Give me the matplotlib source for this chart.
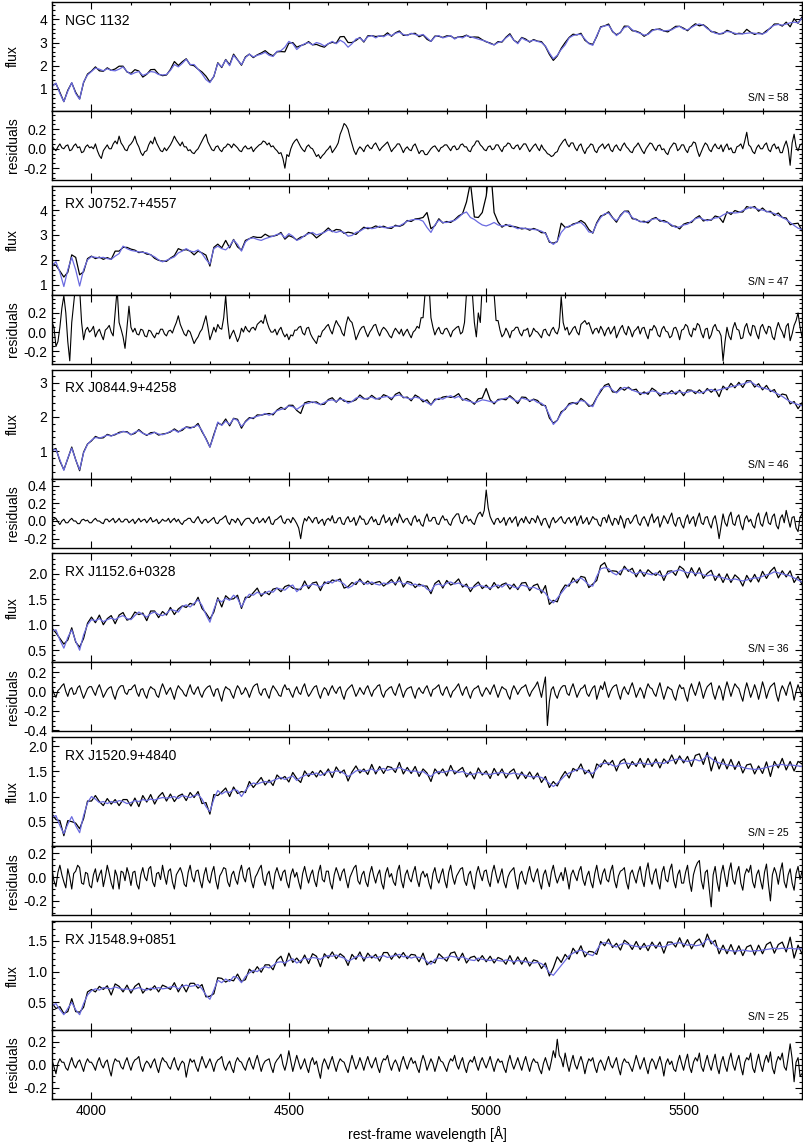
import numpy as np
import matplotlib
matplotlib.use('Agg')
import matplotlib.pyplot as plt
from matplotlib.ticker import MultipleLocator, FormatStrFormatter

plt.rcParams['font.family'] = ['Liberation Sans', 'DejaVu Sans']
plt.rcParams['axes.unicode_minus'] = False

# rest-frame wavelength grids: model on 10 A steps, residuals on 5 A steps
wave = np.arange(3900, 5801, 10)
wave_fine = np.arange(3900, 5801, 5)

names = ['NGC 1132', 'RX J0752.7+4557', 'RX J0844.9+4258',
         'RX J1152.6+0328', 'RX J1520.9+4840', 'RX J1548.9+0851']
sn_values = [58, 47, 46, 36, 25, 25]

ngc1132_model = [
    1.10, 1.25, 0.80, 0.45, 0.90, 1.27, 0.80, 0.55, 1.30, 1.60,
    1.75, 1.90, 1.85, 1.78, 1.87, 1.80, 1.78, 1.85, 1.95, 1.75,
    1.62, 1.70, 1.75, 1.58, 1.65, 1.75, 1.72, 1.62, 1.60, 1.62,
    1.80, 2.05, 1.95, 2.10, 2.28, 2.05, 2.05, 1.85, 1.65, 1.40,
    1.27, 1.55, 2.10, 1.95, 2.25, 2.00, 2.45, 2.25, 2.05, 2.35,
    2.50, 2.38, 2.45, 2.50, 2.58, 2.45, 2.40, 2.62, 2.65, 2.80,
    3.05, 2.95, 2.70, 2.85, 2.95, 3.00, 2.90, 3.00, 2.95, 2.85,
    2.95, 3.05, 2.95, 3.10, 3.00, 2.80, 2.95, 3.15, 3.20, 3.05,
    3.25, 3.30, 3.20, 3.30, 3.25, 3.35, 3.30, 3.40, 3.45, 3.35,
    3.30, 3.40, 3.35, 3.30, 3.35, 3.20, 3.05, 3.25, 3.30, 3.20,
    3.25, 3.30, 3.15, 3.25, 3.20, 3.30, 3.25, 3.20, 3.15, 3.10,
    3.05, 2.95, 2.90, 3.00, 3.05, 3.20, 3.33, 3.10, 2.95, 3.20,
    3.10, 3.05, 3.10, 3.05, 3.00, 2.85, 2.55, 2.30, 2.45, 2.70,
    2.90, 3.20, 3.30, 3.35, 3.35, 3.15, 2.95, 2.88, 3.30, 3.65,
    3.72, 3.75, 3.50, 3.30, 3.45, 3.65, 3.70, 3.55, 3.46, 3.40,
    3.32, 3.35, 3.50, 3.58, 3.55, 3.50, 3.52, 3.55, 3.65, 3.70,
    3.58, 3.55, 3.65, 3.75, 3.80, 3.75, 3.60, 3.50, 3.40, 3.37,
    3.42, 3.48, 3.45, 3.40, 3.37, 3.38, 3.40, 3.42, 3.40, 3.38,
    3.37, 3.45, 3.65, 3.75, 3.78, 3.75, 3.80, 3.85, 3.88, 3.85,
    4.05]
ngc1132_resid = [
    0.03, 0.00, -0.02, 0.02, 0.05, 0.01, 0.00, 0.03, 0.04, -0.02, -0.01, 0.03, 0.05, 0.01, 0.02, -0.04, -0.03, 0.02, 0.04, 0.01,
    0.02, 0.00, 0.05, -0.02, -0.07, -0.10, -0.02, 0.01, 0.04, 0.00, 0.00, 0.05, 0.08, 0.05, 0.13, 0.06, 0.03, -0.01, -0.02, 0.03,
    0.05, 0.08, 0.13, 0.06, 0.02, -0.04, -0.07, -0.03, -0.02, 0.04, 0.08, 0.05, 0.12, 0.06, 0.02, -0.02, -0.03, 0.01, -0.02, 0.01,
    0.04, 0.08, 0.13, 0.09, 0.06, 0.03, 0.07, 0.02, 0.02, -0.02, -0.01, -0.04, -0.05, -0.02, 0.00, 0.04, 0.08, 0.12, 0.15, 0.07,
    0.03, -0.01, -0.02, 0.02, 0.03, -0.01, -0.03, 0.01, 0.02, 0.05, 0.04, 0.01, 0.05, 0.03, 0.01, -0.02, -0.03, 0.01, 0.03, 0.00,
    0.00, 0.02, -0.03, 0.00, 0.02, 0.04, 0.05, 0.08, 0.07, 0.04, 0.06, 0.02, 0.03, 0.00, -0.02, -0.05, -0.04, -0.10, -0.20, -0.06,
    -0.08, 0.00, 0.05, 0.08, 0.10, 0.06, 0.02, -0.01, -0.03, 0.02, 0.04, 0.01, 0.00, -0.04, -0.08, -0.06, -0.10, -0.07, -0.05, -0.02,
    0.00, 0.03, -0.04, -0.01, 0.02, 0.06, 0.15, 0.20, 0.26, 0.24, 0.20, 0.12, 0.05, -0.02, -0.06, -0.01, 0.02, 0.00, -0.03, 0.02,
    0.04, 0.01, 0.00, 0.04, 0.06, 0.02, -0.02, 0.01, 0.03, 0.05, 0.07, 0.02, -0.03, 0.00, 0.02, 0.05, 0.05, 0.01, -0.04, 0.00,
    0.02, -0.01, -0.02, 0.03, 0.05, 0.00, -0.05, -0.02, -0.02, -0.06, -0.06, -0.03, 0.00, 0.02, 0.03, 0.00, -0.03, 0.01, 0.02, 0.04,
    0.04, 0.01, -0.02, 0.02, 0.03, -0.01, 0.00, 0.04, 0.05, 0.02, 0.02, -0.02, -0.03, 0.02, 0.04, 0.08, 0.08, 0.04, 0.02, -0.01,
    -0.02, 0.02, 0.03, -0.01, 0.00, 0.04, 0.04, 0.00, -0.03, 0.02, 0.03, 0.06, 0.05, 0.01, 0.00, 0.03, 0.04, -0.01, 0.02, 0.05,
    0.05, 0.01, -0.03, 0.00, 0.03, 0.05, 0.01, -0.02, 0.04, 0.00, -0.02, -0.05, -0.06, -0.08, -0.07, -0.04, -0.03, 0.02, 0.05, 0.08,
    0.10, 0.05, 0.02, 0.06, 0.06, 0.01, -0.02, 0.03, 0.05, -0.01, -0.05, 0.00, 0.02, 0.05, 0.04, -0.02, -0.04, 0.01, 0.03, 0.05,
    0.00, 0.03, 0.05, -0.01, -0.03, 0.02, 0.04, 0.00, -0.02, 0.03, 0.06, 0.02, 0.00, -0.03, -0.04, 0.01, 0.03, 0.06, 0.02, -0.02,
    -0.05, 0.00, 0.03, 0.06, 0.05, 0.01, -0.02, 0.03, 0.04, -0.01, 0.00, -0.04, -0.06, 0.00, 0.03, 0.06, 0.05, -0.02, 0.00, 0.04,
    0.04, -0.01, -0.04, 0.02, 0.03, 0.07, 0.06, -0.02, -0.08, -0.03, 0.02, 0.06, 0.04, -0.01, -0.03, 0.02, 0.05, 0.01, 0.00, 0.04,
    -0.03, 0.02, 0.05, -0.01, 0.01, -0.04, -0.04, 0.02, 0.03, 0.05, 0.00, 0.08, 0.17, 0.04, 0.02, -0.03, -0.05, 0.01, 0.04, 0.00,
    0.00, 0.04, 0.06, -0.01, -0.03, 0.03, 0.05, 0.00, 0.02, -0.04, -0.04, 0.03, 0.08, 0.00, -0.17, 0.06, 0.15, 0.02, -0.02, 0.04,
    0.05]

rxj0752_model = [
    1.75, 1.93, 1.50, 0.93, 1.60, 2.10, 1.60, 0.95, 1.60, 2.00,
    2.13, 2.10, 2.08, 2.10, 2.05, 2.02, 2.15, 2.25, 2.55, 2.45,
    2.38, 2.35, 2.32, 2.30, 2.28, 2.20, 2.12, 2.00, 1.92, 1.98,
    2.05, 2.12, 2.28, 2.35, 2.45, 2.35, 2.32, 2.40, 2.25, 2.02,
    1.83, 2.45, 2.55, 2.45, 2.40, 2.55, 2.80, 2.62, 2.35, 2.72,
    2.85, 2.88, 2.82, 2.78, 2.85, 2.90, 2.95, 3.02, 3.05, 2.88,
    3.05, 2.95, 2.78, 2.85, 2.98, 3.05, 3.10, 3.00, 3.05, 3.10,
    3.20, 3.15, 3.10, 3.15, 3.10, 2.95, 2.98, 3.10, 3.15, 3.25,
    3.30, 3.25, 3.28, 3.35, 3.30, 3.28, 3.32, 3.35, 3.36, 3.45,
    3.55, 3.60, 3.62, 3.62, 3.55, 3.30, 3.10, 3.40, 3.60, 3.50,
    3.50, 3.55, 3.58, 3.70, 3.85, 3.92, 3.70, 3.62, 3.50, 3.40,
    3.36, 3.42, 3.50, 3.40, 3.36, 3.38, 3.40, 3.32, 3.25, 3.28,
    3.25, 3.24, 3.22, 3.20, 3.15, 3.06, 2.75, 2.62, 2.75, 3.10,
    3.28, 3.36, 3.40, 3.48, 3.50, 3.35, 3.12, 3.09, 3.45, 3.70,
    3.85, 3.88, 3.68, 3.57, 3.75, 3.95, 3.90, 3.70, 3.60, 3.55,
    3.50, 3.55, 3.62, 3.66, 3.60, 3.52, 3.50, 3.40, 3.30, 3.32,
    3.40, 3.43, 3.55, 3.65, 3.70, 3.62, 3.57, 3.62, 3.68, 3.70,
    3.80, 3.88, 3.90, 3.88, 3.90, 3.98, 4.05, 4.12, 4.08, 4.02,
    4.00, 3.95, 3.90, 3.86, 3.78, 3.70, 3.62, 3.50, 3.38, 3.27,
    3.22]
rxj0752_resid = [
    0.10, 0.05, -0.15, -0.10, 0.05, 0.25, 0.38, 0.20, -0.10, -0.30, 0.10, 0.30, 0.50, 0.50, 0.45, 0.10, -0.08, 0.02, 0.05, 0.00,
    0.02, 0.06, -0.05, 0.00, 0.03, -0.03, -0.08, 0.02, 0.04, 0.07, 0.00, -0.04, 0.20, 0.45, 0.10, 0.03, -0.05, -0.17, 0.05, 0.27,
    0.05, 0.00, 0.04, -0.02, -0.03, 0.03, 0.02, -0.04, -0.05, 0.02, 0.01, -0.03, -0.06, -0.01, -0.02, 0.03, 0.03, -0.02, -0.04, 0.01,
    0.02, -0.01, 0.05, 0.10, 0.17, 0.08, 0.03, -0.02, -0.04, 0.02, 0.00, -0.06, -0.12, -0.08, -0.05, 0.00, 0.03, 0.10, 0.17, 0.05,
    -0.08, -0.02, 0.05, 0.00, 0.08, 0.04, 0.03, 0.15, 0.38, 0.10, -0.07, -0.02, 0.02, -0.04, -0.10, -0.05, 0.04, 0.00, 0.06, 0.02,
    0.00, 0.04, 0.05, 0.02, 0.08, 0.10, 0.12, 0.09, 0.18, 0.10, 0.04, 0.00, 0.00, 0.03, -0.03, 0.02, 0.05, -0.01, -0.05, -0.02,
    -0.08, -0.03, -0.04, 0.02, 0.02, 0.05, 0.06, -0.01, -0.03, 0.04, 0.05, -0.02, -0.06, -0.09, -0.12, -0.04, -0.05, 0.01, 0.03, 0.06,
    0.08, 0.02, -0.02, 0.06, 0.12, 0.08, 0.05, -0.01, -0.04, 0.08, 0.16, 0.12, 0.10, 0.02, -0.08, -0.03, 0.02, 0.05, 0.06, 0.00,
    -0.05, 0.00, 0.03, 0.07, 0.08, 0.01, -0.04, 0.02, 0.05, 0.03, 0.00, -0.04, -0.06, 0.00, 0.04, 0.01, -0.02, 0.03, -0.04, 0.00,
    0.03, -0.02, -0.06, 0.00, 0.02, 0.06, 0.04, 0.15, 0.15, 0.40, 0.60, 0.50, 0.15, 0.05, -0.03, 0.02, 0.05, -0.01, -0.02, 0.03,
    0.04, 0.00, -0.05, 0.01, 0.03, 0.05, 0.06, -0.02, 0.00, 0.10, 0.40, 0.90, 1.40, 0.40, 0.10, -0.05, 0.20, 0.10, 0.50, 0.80,
    1.20, 2.00, 2.50, 1.20, 0.40, 0.12, 0.12, 0.02, -0.05, -0.02, 0.04, 0.00, -0.06, 0.01, 0.02, 0.05, 0.05, -0.01, -0.04, 0.02,
    0.02, 0.04, -0.05, -0.02, 0.04, 0.01, 0.00, -0.03, -0.06, 0.02, 0.03, -0.02, -0.04, 0.02, 0.05, 0.00, -0.02, 0.05, 0.37, 0.10,
    0.02, 0.05, -0.03, 0.00, 0.04, 0.06, 0.00, -0.03, 0.08, 0.10, 0.12, 0.08, 0.10, 0.04, -0.02, 0.03, 0.04, -0.01, 0.06, 0.02,
    -0.04, 0.02, 0.05, -0.02, 0.02, 0.06, -0.06, -0.01, 0.04, 0.07, 0.00, -0.03, 0.06, 0.02, -0.05, 0.01, 0.03, 0.06, -0.02, 0.04,
    0.05, -0.02, -0.07, 0.03, 0.02, 0.07, 0.04, -0.03, -0.05, 0.03, 0.06, 0.01, 0.00, -0.06, -0.04, 0.04, 0.05, 0.00, -0.08, 0.02,
    0.03, 0.08, 0.06, -0.02, -0.05, 0.04, 0.02, 0.09, 0.07, -0.01, -0.06, 0.03, 0.04, -0.07, -0.03, 0.05, 0.08, 0.02, 0.01, -0.04,
    -0.30, -0.10, 0.05, -0.04, -0.08, 0.04, 0.10, 0.03, 0.02, -0.07, -0.06, 0.05, 0.09, 0.00, -0.04, 0.07, 0.06, -0.02, -0.07, 0.05,
    0.08, 0.02, -0.02, 0.06, 0.05, -0.05, -0.08, 0.03, 0.10, 0.04, 0.00, -0.06, 0.06, 0.09, -0.09, -0.02, 0.07, 0.12, 0.20, 0.05,
    -0.05]

rxj0844_model = [
    1.03, 1.05, 0.75, 0.44, 0.80, 1.09, 0.75, 0.46, 0.95, 1.20,
    1.32, 1.40, 1.38, 1.42, 1.47, 1.44, 1.50, 1.52, 1.58, 1.55,
    1.48, 1.55, 1.60, 1.52, 1.48, 1.50, 1.55, 1.50, 1.48, 1.52,
    1.58, 1.62, 1.55, 1.65, 1.70, 1.66, 1.72, 1.76, 1.60, 1.35,
    1.12, 1.45, 1.85, 1.75, 1.88, 1.78, 1.95, 1.90, 1.72, 1.85,
    1.95, 1.98, 2.02, 2.05, 2.10, 2.05, 2.10, 2.18, 2.22, 2.25,
    2.32, 2.30, 2.22, 2.30, 2.38, 2.40, 2.44, 2.40, 2.36, 2.42,
    2.48, 2.50, 2.45, 2.52, 2.50, 2.40, 2.45, 2.55, 2.58, 2.52,
    2.55, 2.58, 2.52, 2.56, 2.58, 2.60, 2.55, 2.62, 2.64, 2.58,
    2.55, 2.52, 2.58, 2.55, 2.50, 2.42, 2.35, 2.48, 2.55, 2.52,
    2.58, 2.62, 2.55, 2.60, 2.52, 2.48, 2.45, 2.41, 2.45, 2.50,
    2.48, 2.45, 2.42, 2.48, 2.52, 2.55, 2.58, 2.50, 2.45, 2.55,
    2.52, 2.48, 2.50, 2.42, 2.40, 2.30, 2.05, 1.78, 1.90, 2.10,
    2.25, 2.35, 2.40, 2.42, 2.48, 2.45, 2.35, 2.30, 2.55, 2.80,
    2.88, 2.90, 2.78, 2.70, 2.80, 2.86, 2.84, 2.78, 2.74, 2.70,
    2.68, 2.72, 2.76, 2.74, 2.68, 2.66, 2.70, 2.68, 2.72, 2.74,
    2.70, 2.72, 2.76, 2.74, 2.70, 2.72, 2.78, 2.80, 2.76, 2.79,
    2.82, 2.85, 2.88, 2.90, 2.94, 2.96, 3.00, 3.03, 2.95, 2.88,
    2.85, 2.82, 2.78, 2.72, 2.66, 2.60, 2.52, 2.45, 2.40, 2.36,
    2.33]
rxj0844_resid = [
    0.00, 0.02, 0.03, -0.01, -0.04, 0.00, 0.02, -0.02, -0.02, 0.01, 0.03, 0.00, 0.00, -0.03, -0.03, 0.01, 0.02, 0.00, 0.01, -0.02,
    -0.02, 0.01, 0.03, 0.00, 0.00, -0.02, -0.03, 0.02, 0.02, -0.01, 0.01, 0.03, -0.02, 0.00, 0.03, -0.01, -0.01, 0.02, 0.02, -0.02,
    0.00, 0.02, -0.03, 0.00, 0.03, -0.01, 0.01, 0.02, -0.02, 0.01, 0.04, -0.01, 0.00, 0.02, -0.03, -0.01, 0.02, 0.00, 0.00, 0.03,
    -0.02, 0.01, 0.03, -0.01, 0.02, -0.02, -0.04, 0.00, 0.01, 0.03, 0.03, -0.01, -0.02, 0.02, 0.05, 0.00, -0.03, 0.01, 0.02, -0.02,
    0.00, 0.02, 0.04, -0.02, -0.03, 0.01, 0.02, 0.04, 0.06, -0.01, -0.04, 0.02, 0.01, -0.02, 0.03, 0.00, -0.05, -0.01, 0.02, 0.03,
    0.03, -0.01, -0.03, 0.02, 0.04, -0.02, 0.00, 0.03, -0.02, 0.02, 0.05, -0.03, -0.04, 0.01, 0.02, 0.04, 0.06, -0.01, -0.03, 0.02,
    0.02, -0.02, 0.04, 0.01, -0.03, -0.08, -0.20, -0.05, 0.03, 0.00, 0.05, 0.02, -0.02, 0.03, 0.04, -0.03, 0.00, 0.02, -0.05, 0.01,
    0.03, 0.00, 0.06, -0.02, -0.02, 0.03, 0.04, -0.03, -0.04, 0.02, 0.05, -0.01, 0.00, 0.04, -0.05, 0.00, 0.06, 0.02, 0.02, -0.04,
    -0.03, 0.02, 0.05, -0.01, 0.02, -0.04, -0.04, 0.03, 0.07, -0.02, 0.00, 0.04, -0.05, 0.01, 0.04, -0.02, 0.08, 0.03, -0.02, 0.02,
    0.03, -0.02, -0.05, 0.03, 0.06, -0.01, 0.02, -0.04, -0.06, 0.03, 0.08, 0.00, 0.00, 0.04, 0.04, -0.03, -0.04, 0.02, 0.06, 0.01,
    0.02, -0.03, -0.05, 0.02, 0.05, 0.08, 0.08, -0.01, -0.03, 0.04, 0.06, 0.00, 0.02, -0.02, -0.04, 0.03, 0.08, 0.10, 0.05, 0.12,
    0.35, 0.15, 0.05, 0.00, -0.04, 0.02, 0.03, -0.02, 0.00, 0.04, -0.05, 0.01, 0.04, -0.02, 0.02, 0.05, -0.06, 0.00, 0.03, -0.02,
    0.05, 0.00, -0.03, 0.03, 0.02, -0.02, 0.06, 0.01, -0.05, 0.02, 0.03, -0.03, -0.08, 0.00, 0.04, -0.02, 0.00, 0.03, 0.05, -0.01,
    -0.03, 0.02, 0.04, -0.02, 0.02, 0.05, -0.05, 0.01, 0.06, -0.03, 0.00, 0.04, -0.04, 0.00, 0.05, 0.02, 0.02, -0.04, -0.06, 0.03,
    0.04, -0.02, 0.07, 0.00, -0.05, 0.03, 0.02, -0.04, 0.06, 0.01, -0.08, 0.02, 0.03, -0.03, 0.00, 0.05, 0.07, -0.02, -0.05, 0.02,
    0.05, 0.00, -0.06, 0.03, 0.08, -0.02, 0.02, 0.05, -0.07, -0.01, 0.06, 0.02, -0.03, 0.04, 0.09, -0.02, -0.06, 0.03, 0.04, -0.04,
    -0.08, 0.02, 0.07, -0.03, 0.02, 0.05, -0.06, 0.03, 0.09, -0.02, -0.04, 0.04, 0.05, -0.03, -0.08, 0.02, 0.06, -0.05, -0.20, -0.06,
    0.08, -0.02, -0.06, 0.05, 0.10, -0.03, -0.05, 0.04, 0.07, -0.04, -0.10, 0.02, 0.06, -0.01, 0.02, -0.05, -0.08, 0.04, 0.09, -0.03,
    -0.06, 0.04, 0.10, -0.02, -0.04, 0.05, 0.08, -0.05, -0.09, 0.03, 0.07, -0.02, 0.12, 0.02, -0.07, 0.04, 0.05, -0.08, -0.12, 0.04,
    0.08]

rxj1152_model = [
    0.88, 0.90, 0.70, 0.54, 0.75, 0.90, 0.68, 0.50, 0.80, 1.00,
    1.10, 1.08, 1.12, 1.06, 1.10, 1.13, 1.10, 1.15, 1.18, 1.12,
    1.10, 1.18, 1.25, 1.20, 1.15, 1.22, 1.25, 1.20, 1.18, 1.22,
    1.30, 1.28, 1.25, 1.36, 1.39, 1.35, 1.42, 1.49, 1.38, 1.20,
    1.05, 1.30, 1.50, 1.45, 1.52, 1.48, 1.58, 1.52, 1.35, 1.50,
    1.60, 1.58, 1.64, 1.60, 1.62, 1.66, 1.64, 1.72, 1.70, 1.68,
    1.75, 1.78, 1.65, 1.72, 1.78, 1.76, 1.80, 1.78, 1.74, 1.80,
    1.85, 1.82, 1.88, 1.85, 1.80, 1.72, 1.76, 1.84, 1.86, 1.82,
    1.80, 1.84, 1.80, 1.78, 1.82, 1.80, 1.84, 1.82, 1.86, 1.80,
    1.82, 1.78, 1.80, 1.76, 1.78, 1.70, 1.66, 1.78, 1.80, 1.76,
    1.82, 1.84, 1.80, 1.82, 1.78, 1.75, 1.72, 1.74, 1.78, 1.76,
    1.74, 1.72, 1.76, 1.78, 1.74, 1.80, 1.78, 1.74, 1.72, 1.78,
    1.76, 1.72, 1.74, 1.70, 1.68, 1.62, 1.50, 1.43, 1.52, 1.62,
    1.72, 1.80, 1.84, 1.88, 1.92, 1.86, 1.78, 1.76, 1.95, 2.10,
    2.12, 2.10, 2.02, 1.98, 2.06, 2.10, 2.08, 2.02, 2.00, 2.04,
    2.02, 2.00, 1.98, 2.02, 1.97, 1.95, 2.00, 2.04, 2.06, 2.08,
    2.05, 2.02, 2.04, 2.00, 2.02, 1.98, 1.96, 1.98, 1.95, 1.94,
    1.92, 1.90, 1.88, 1.90, 1.88, 1.86, 1.88, 1.90, 1.92, 1.92,
    1.95, 1.98, 2.00, 2.04, 2.02, 2.00, 1.98, 1.96, 1.92, 1.88,
    1.84]
rxj1152_resid = [
    0.05, -0.02, -0.06, 0.01, 0.03, 0.06, 0.08, 0.00, -0.05, 0.02, 0.04, -0.03, -0.02, 0.04, 0.06, -0.01, -0.07, -0.02, 0.03, 0.05,
    0.05, 0.00, -0.04, 0.03, 0.07, 0.01, -0.06, -0.02, 0.02, 0.04, 0.05, -0.03, -0.08, 0.00, 0.04, 0.06, 0.06, -0.01, -0.03, 0.02,
    0.02, 0.05, 0.07, -0.01, -0.05, 0.02, 0.03, -0.03, -0.07, 0.01, 0.05, 0.03, 0.02, -0.04, -0.06, 0.02, 0.08, 0.03, -0.03, 0.01,
    0.04, -0.02, -0.08, 0.01, 0.06, 0.03, 0.01, -0.03, -0.05, 0.02, 0.07, 0.00, -0.03, 0.02, 0.05, -0.02, -0.06, 0.00, 0.03, 0.05,
    0.06, 0.00, -0.05, 0.02, 0.03, -0.04, -0.10, 0.00, 0.05, 0.03, 0.02, -0.03, -0.07, 0.01, 0.06, 0.03, -0.03, -0.01, 0.04, 0.00,
    -0.06, 0.00, 0.05, 0.07, 0.08, -0.01, -0.04, 0.02, 0.03, -0.03, -0.07, 0.01, 0.06, 0.03, 0.00, -0.04, -0.05, 0.03, 0.07, 0.02,
    0.03, -0.02, -0.06, 0.01, 0.05, -0.01, -0.03, 0.04, 0.08, 0.00, -0.05, -0.02, 0.02, 0.05, 0.06, -0.02, -0.07, 0.00, 0.04, 0.02,
    -0.04, 0.02, 0.06, 0.01, -0.02, 0.03, 0.05, -0.03, -0.08, 0.00, 0.03, 0.05, 0.07, 0.01, -0.05, -0.01, 0.04, 0.00, -0.03, 0.03,
    0.06, 0.00, -0.05, 0.01, 0.03, 0.06, 0.07, -0.02, -0.06, 0.00, 0.02, 0.04, 0.05, -0.01, -0.04, 0.03, 0.08, 0.01, -0.06, 0.00,
    0.03, 0.04, 0.05, -0.02, -0.07, 0.01, 0.04, 0.00, -0.02, 0.03, 0.06, 0.00, -0.05, 0.02, 0.03, 0.05, 0.07, -0.01, -0.04, 0.02,
    0.05, -0.01, -0.06, 0.00, 0.02, 0.05, 0.08, 0.01, -0.04, 0.02, 0.05, -0.02, -0.07, 0.00, 0.03, 0.04, 0.06, -0.01, -0.05, 0.00,
    0.04, 0.01, -0.03, 0.03, 0.07, 0.00, -0.06, 0.00, 0.05, 0.03, 0.02, -0.04, -0.08, 0.01, 0.06, 0.02, -0.03, 0.01, 0.04, 0.05,
    0.07, 0.00, -0.05, 0.00, 0.03, 0.06, 0.10, 0.02, -0.06, 0.05, 0.15, -0.35, -0.10, 0.02, 0.05, -0.03, -0.07, 0.00, 0.04, 0.06,
    0.06, -0.02, -0.04, 0.03, 0.08, 0.01, -0.06, -0.01, 0.03, 0.04, 0.07, -0.02, -0.05, 0.00, 0.04, 0.06, -0.08, -0.01, 0.06, 0.02,
    0.10, 0.01, -0.06, 0.00, 0.04, 0.06, 0.07, -0.02, -0.08, 0.01, 0.05, 0.00, -0.03, 0.04, 0.09, 0.02, -0.06, -0.01, 0.04, 0.00,
    -0.07, 0.02, 0.08, 0.04, 0.03, -0.02, -0.05, 0.03, 0.09, 0.00, -0.08, -0.01, 0.05, 0.03, 0.02, -0.05, -0.09, 0.01, 0.07, 0.03,
    0.04, -0.04, -0.10, 0.02, 0.08, 0.01, -0.04, 0.03, 0.10, 0.02, -0.07, 0.00, 0.05, 0.07, 0.09, -0.02, -0.08, 0.00, 0.06, 0.01,
    -0.09, 0.02, 0.10, 0.03, -0.05, 0.02, 0.08, 0.05, 0.03, -0.04, -0.10, 0.01, 0.09, 0.02, -0.06, 0.00, 0.07, 0.01, -0.08, 0.00,
    0.10, 0.03, -0.07, 0.00, 0.05, 0.07, 0.09, -0.03, -0.10, 0.00, 0.06, 0.02, -0.04, 0.05, 0.10, 0.02, -0.09, 0.00, 0.07, 0.01,
    -0.05]

rxj1520_model = [
    0.59, 0.62, 0.42, 0.26, 0.45, 0.60, 0.42, 0.28, 0.62, 0.88,
    1.00, 0.95, 0.88, 0.90, 0.86, 0.90, 0.88, 0.92, 0.90, 0.86,
    0.88, 0.92, 0.90, 0.94, 0.92, 0.95, 0.93, 0.96, 0.98, 0.97,
    0.98, 1.00, 0.96, 1.02, 1.00, 0.98, 1.02, 1.04, 0.95, 0.80,
    0.70, 0.95, 1.12, 1.05, 1.10, 1.08, 1.14, 1.12, 1.00, 1.12,
    1.22, 1.27, 1.25, 1.28, 1.30, 1.28, 1.32, 1.35, 1.38, 1.34,
    1.38, 1.41, 1.32, 1.38, 1.42, 1.45, 1.44, 1.47, 1.42, 1.46,
    1.50, 1.48, 1.51, 1.50, 1.46, 1.40, 1.45, 1.51, 1.53, 1.50,
    1.52, 1.55, 1.50, 1.54, 1.56, 1.52, 1.55, 1.55, 1.58, 1.54,
    1.52, 1.50, 1.51, 1.48, 1.50, 1.44, 1.40, 1.47, 1.50, 1.48,
    1.50, 1.52, 1.51, 1.48, 1.50, 1.46, 1.44, 1.45, 1.48, 1.46,
    1.45, 1.44, 1.46, 1.47, 1.48, 1.46, 1.45, 1.47, 1.45, 1.44,
    1.42, 1.40, 1.39, 1.40, 1.38, 1.34, 1.26, 1.20, 1.26, 1.34,
    1.42, 1.47, 1.50, 1.54, 1.56, 1.52, 1.48, 1.46, 1.55, 1.65,
    1.66, 1.67, 1.62, 1.60, 1.65, 1.67, 1.66, 1.64, 1.65, 1.67,
    1.66, 1.64, 1.66, 1.68, 1.67, 1.66, 1.70, 1.72, 1.74, 1.75,
    1.72, 1.70, 1.72, 1.74, 1.71, 1.74, 1.82, 1.76, 1.70, 1.67,
    1.65, 1.63, 1.62, 1.60, 1.61, 1.58, 1.56, 1.55, 1.54, 1.55,
    1.56, 1.58, 1.60, 1.62, 1.63, 1.64, 1.62, 1.63, 1.62, 1.61,
    1.60]
rxj1520_resid = [
    0.06, -0.03, -0.08, 0.04, 0.10, 0.02, -0.04, -0.09, 0.07, 0.00, -0.10, 0.03, 0.05, 0.10, 0.08, -0.05, -0.06, 0.04, 0.03, -0.07,
    -0.09, 0.02, 0.07, -0.04, 0.02, 0.06, -0.08, 0.00, 0.10, 0.03, -0.05, -0.10, 0.06, 0.01, -0.10, 0.05, 0.04, -0.03, 0.08, 0.02,
    -0.07, 0.04, 0.05, -0.06, -0.10, 0.02, 0.08, 0.00, -0.03, 0.07, 0.09, -0.04, -0.08, 0.03, 0.04, -0.02, 0.10, 0.01, -0.06, 0.05,
    0.07, -0.04, -0.10, 0.02, 0.05, 0.08, 0.03, -0.06, -0.08, 0.04, 0.10, 0.00, -0.04, 0.05, 0.06, -0.03, -0.09, 0.02, 0.08, -0.02,
    -0.05, 0.04, 0.09, -0.03, -0.10, 0.01, 0.04, 0.08, 0.07, -0.04, -0.08, 0.02, 0.05, -0.02, -0.06, 0.04, 0.10, 0.00, -0.04, 0.06,
    0.08, -0.03, -0.09, 0.00, 0.03, 0.07, 0.10, -0.02, -0.07, 0.02, 0.05, -0.05, -0.10, 0.03, 0.08, 0.02, -0.03, 0.04, 0.06, -0.04,
    -0.09, 0.02, 0.07, 0.00, 0.04, -0.04, -0.10, 0.03, 0.09, 0.01, -0.05, 0.02, 0.06, -0.03, -0.08, 0.04, 0.10, -0.02, -0.04, 0.05,
    0.05, -0.05, -0.10, 0.02, 0.08, 0.03, -0.03, 0.04, 0.07, -0.02, -0.09, 0.00, 0.04, 0.08, 0.10, -0.03, -0.06, 0.02, 0.05, -0.04,
    -0.08, 0.03, 0.09, 0.01, -0.05, 0.02, 0.06, -0.05, -0.10, 0.03, 0.08, 0.00, 0.03, -0.04, -0.07, 0.05, 0.10, -0.03, -0.09, 0.02,
    0.06, -0.01, -0.04, 0.04, 0.09, -0.02, -0.08, 0.02, 0.05, 0.00, 0.03, -0.05, -0.10, 0.03, 0.08, -0.01, -0.05, 0.02, 0.07, -0.03,
    -0.09, 0.04, 0.10, 0.00, -0.06, 0.01, 0.04, 0.07, 0.08, -0.03, -0.07, 0.02, 0.05, -0.04, -0.10, 0.03, 0.09, 0.02, -0.03, 0.05,
    0.06, -0.03, -0.08, 0.04, 0.10, 0.02, -0.05, 0.01, 0.07, -0.04, -0.09, 0.00, 0.04, 0.06, 0.08, -0.03, -0.10, 0.02, 0.05, -0.02,
    -0.06, 0.03, 0.09, 0.00, -0.04, 0.03, 0.07, -0.04, -0.10, 0.02, 0.06, -0.02, -0.08, 0.04, 0.10, 0.01, -0.05, 0.00, 0.04, -0.03,
    0.08, 0.00, -0.10, 0.02, 0.06, 0.01, -0.03, 0.05, 0.09, -0.02, -0.07, 0.01, 0.05, -0.04, -0.09, 0.03, 0.10, 0.00, -0.06, 0.03,
    0.07, -0.02, -0.04, 0.05, 0.10, -0.03, -0.09, 0.01, 0.05, 0.06, 0.08, -0.04, -0.10, 0.03, 0.06, 0.00, -0.05, 0.04, 0.09, -0.02,
    -0.08, 0.05, 0.12, 0.00, -0.06, 0.03, 0.07, -0.04, -0.10, 0.04, 0.09, -0.02, -0.04, 0.06, 0.11, -0.03, -0.09, 0.02, 0.06, -0.05,
    -0.05, 0.04, 0.10, -0.04, -0.12, 0.02, 0.08, 0.12, 0.14, -0.03, -0.10, 0.04, 0.06, -0.10, -0.25, 0.02, 0.09, -0.04, -0.12, 0.03,
    0.10, 0.00, -0.08, 0.05, 0.12, -0.02, -0.06, 0.04, 0.09, -0.05, -0.11, 0.02, 0.07, 0.04, 0.10, -0.04, -0.09, 0.02, 0.06, -0.03,
    -0.10, 0.04, 0.11, -0.06, -0.20, 0.02, 0.08, 0.03, -0.06, 0.05, 0.12, -0.04, -0.09, 0.02, 0.07, -0.05, -0.11, 0.03, 0.09, -0.02,
    0.05]

rxj1548_model = [
    0.45, 0.48, 0.38, 0.30, 0.40, 0.50, 0.38, 0.30, 0.48, 0.62,
    0.69, 0.72, 0.70, 0.74, 0.73, 0.72, 0.75, 0.73, 0.71, 0.72,
    0.70, 0.72, 0.74, 0.71, 0.70, 0.73, 0.72, 0.74, 0.72, 0.73,
    0.75, 0.76, 0.72, 0.76, 0.78, 0.76, 0.77, 0.79, 0.72, 0.62,
    0.55, 0.70, 0.86, 0.82, 0.88, 0.84, 0.92, 0.90, 0.82, 0.92,
    0.98, 1.02, 1.00, 1.05, 1.08, 1.06, 1.10, 1.15, 1.16, 1.14,
    1.18, 1.21, 1.14, 1.18, 1.22, 1.20, 1.23, 1.22, 1.20, 1.24,
    1.26, 1.25, 1.27, 1.24, 1.22, 1.17, 1.20, 1.24, 1.26, 1.22,
    1.23, 1.25, 1.22, 1.24, 1.26, 1.23, 1.25, 1.26, 1.28, 1.24,
    1.25, 1.22, 1.24, 1.23, 1.22, 1.16, 1.12, 1.20, 1.22, 1.21,
    1.23, 1.25, 1.24, 1.22, 1.24, 1.21, 1.19, 1.18, 1.22, 1.20,
    1.19, 1.18, 1.20, 1.18, 1.17, 1.19, 1.18, 1.16, 1.18, 1.17,
    1.16, 1.15, 1.14, 1.15, 1.13, 1.08, 0.98, 0.94, 1.02, 1.10,
    1.18, 1.26, 1.30, 1.33, 1.35, 1.32, 1.28, 1.26, 1.35, 1.45,
    1.47, 1.46, 1.42, 1.40, 1.44, 1.46, 1.44, 1.42, 1.41, 1.40,
    1.40, 1.42, 1.43, 1.42, 1.41, 1.40, 1.43, 1.45, 1.46, 1.47,
    1.45, 1.43, 1.44, 1.42, 1.43, 1.46, 1.53, 1.50, 1.42, 1.37,
    1.36, 1.35, 1.34, 1.33, 1.34, 1.35, 1.34, 1.33, 1.34, 1.34,
    1.35, 1.36, 1.37, 1.38, 1.37, 1.38, 1.37, 1.38, 1.37, 1.37,
    1.37]
rxj1548_resid = [
    0.04, -0.02, -0.08, 0.01, 0.05, 0.02, 0.02, -0.03, -0.05, 0.01, 0.06, 0.00, -0.03, 0.02, 0.04, -0.01, -0.06, 0.01, 0.05, 0.02,
    0.02, -0.01, -0.05, 0.02, 0.06, 0.00, -0.03, 0.02, 0.04, -0.04, -0.10, 0.00, 0.05, 0.03, 0.03, -0.02, -0.04, 0.02, 0.06, 0.00,
    -0.05, 0.01, 0.04, 0.05, 0.07, -0.02, -0.06, 0.00, 0.03, 0.01, -0.03, 0.02, 0.05, -0.02, -0.07, 0.01, 0.06, 0.03, 0.02, -0.02,
    -0.04, 0.02, 0.06, -0.01, -0.05, 0.00, 0.03, 0.01, -0.11, -0.02, 0.05, 0.02, 0.04, -0.02, -0.06, 0.01, 0.07, 0.02, -0.03, 0.01,
    0.05, 0.00, -0.06, 0.01, 0.04, 0.05, 0.07, -0.01, -0.05, 0.00, 0.03, -0.03, -0.07, 0.02, 0.06, 0.03, 0.02, -0.02, -0.05, 0.02,
    0.06, 0.00, -0.04, 0.03, 0.08, 0.01, -0.06, 0.00, 0.03, 0.04, 0.05, -0.02, -0.07, 0.01, 0.04, 0.06, 0.09, 0.00, -0.05, 0.02,
    0.12, 0.03, -0.06, 0.01, 0.08, 0.02, -0.04, 0.00, 0.05, -0.02, -0.07, 0.02, 0.06, 0.00, 0.03, -0.05, -0.12, 0.00, 0.05, 0.01,
    -0.04, 0.02, 0.07, 0.00, -0.06, 0.01, 0.05, 0.03, 0.02, -0.03, -0.07, 0.01, 0.08, 0.02, -0.04, 0.00, 0.06, 0.01, -0.05, 0.02,
    0.07, 0.01, -0.03, 0.02, 0.06, -0.02, -0.07, 0.01, 0.05, 0.04, 0.08, 0.00, -0.05, 0.01, 0.04, 0.00, -0.06, 0.02, 0.07, 0.01,
    -0.04, 0.02, 0.06, 0.01, 0.03, -0.03, -0.07, 0.02, 0.08, 0.03, -0.05, 0.00, 0.05, 0.01, -0.06, 0.00, 0.07, 0.03, 0.02, -0.02,
    -0.06, 0.01, 0.05, 0.03, 0.08, 0.00, -0.04, 0.02, 0.06, -0.02, -0.07, 0.01, 0.04, 0.02, 0.07, 0.00, -0.05, 0.02, 0.06, 0.01,
    -0.03, 0.02, 0.07, 0.00, -0.06, 0.01, 0.05, 0.02, 0.03, -0.03, -0.07, 0.02, 0.08, 0.01, -0.04, 0.01, 0.06, 0.00, -0.05, 0.02,
    0.07, 0.00, -0.06, 0.01, 0.05, 0.02, 0.02, -0.04, -0.08, 0.01, 0.06, 0.00, -0.05, 0.03, 0.12, 0.06, 0.22, 0.08, 0.05, -0.02,
    0.10, 0.01, -0.06, 0.02, 0.08, 0.00, -0.04, 0.02, 0.07, 0.01, -0.08, 0.00, 0.05, 0.03, 0.06, -0.02, -0.07, 0.01, 0.04, 0.00,
    -0.05, 0.02, 0.07, 0.00, -0.03, 0.02, 0.06, -0.03, -0.09, 0.01, 0.05, 0.02, 0.02, -0.02, -0.06, 0.01, 0.08, 0.02, -0.04, 0.01,
    0.06, -0.02, -0.08, 0.01, 0.05, 0.02, -0.04, 0.02, 0.07, 0.00, -0.10, 0.01, 0.05, 0.00, 0.03, -0.04, -0.06, 0.02, 0.08, 0.01,
    -0.05, 0.03, 0.09, -0.02, -0.07, 0.02, 0.06, 0.03, 0.10, -0.02, -0.06, 0.02, 0.08, 0.00, -0.05, 0.03, 0.09, -0.02, -0.08, 0.02,
    0.07, -0.01, -0.06, 0.04, 0.10, 0.00, -0.05, 0.03, 0.08, -0.02, -0.09, 0.02, 0.06, 0.04, 0.10, -0.03, -0.07, 0.02, 0.09, 0.00,
    -0.06, 0.03, 0.08, 0.02, 0.11, -0.03, -0.08, 0.02, 0.07, 0.04, 0.10, -0.02, -0.05, 0.06, 0.18, 0.05, -0.15, 0.02, 0.06, -0.10,
    -0.08]

models = [ngc1132_model, rxj0752_model, rxj0844_model,
          rxj1152_model, rxj1520_model, rxj1548_model]
resids = [ngc1132_resid, rxj0752_resid, rxj0844_resid,
          rxj1152_resid, rxj1520_resid, rxj1548_resid]

flux_ylims = [(0.05, 4.75), (0.6, 4.97), (0.2, 3.38),
              (0.26, 2.4), (0.01, 2.18), (0.05, 1.82)]
resid_ylims = [(-0.32, 0.39), (-0.33, 0.39), (-0.3, 0.48),
               (-0.41, 0.3), (-0.32, 0.26), (-0.3, 0.3)]

model_color = '#6a6ae0'


def style_axis(ax):
    ax.tick_params(which='both', direction='in', top=True, right=True,
                   labelsize=10, width=0.8)
    ax.tick_params(which='major', length=5)
    ax.tick_params(which='minor', length=2.5)
    ax.xaxis.set_major_locator(MultipleLocator(500))
    ax.xaxis.set_minor_locator(MultipleLocator(100))
    for sp in ax.spines.values():
        sp.set_linewidth(1.0)


fig = plt.figure(figsize=(8.04, 11.44), dpi=100)
ratios = []
for i in range(6):
    ratios += [109, 69]
    if i < 5:
        ratios.append(6)
gs = fig.add_gridspec(len(ratios), 1, height_ratios=ratios, hspace=0,
                      left=52 / 804, right=802 / 804,
                      top=1 - 2 / 1144, bottom=1 - 1099 / 1144)

for i in range(6):
    model = np.array(models[i])
    resid = np.array(resids[i])
    observed = model + resid[::2]

    axf = fig.add_subplot(gs[3 * i])
    axr = fig.add_subplot(gs[3 * i + 1])

    axf.plot(wave, observed, color='black', lw=0.9)
    axf.plot(wave, model, color=model_color, lw=0.9)
    axr.plot(wave_fine, resid, color='black', lw=0.8)

    for ax in (axf, axr):
        ax.set_xlim(3900, 5800)
        style_axis(ax)
        ax.tick_params(labelbottom=False)

    axf.set_ylim(*flux_ylims[i])
    axr.set_ylim(*resid_ylims[i])

    if i < 3:
        axf.yaxis.set_major_locator(MultipleLocator(1))
        axf.yaxis.set_minor_locator(MultipleLocator(0.2))
        axf.yaxis.set_major_formatter(FormatStrFormatter('%d'))
    else:
        axf.yaxis.set_major_locator(MultipleLocator(0.5))
        axf.yaxis.set_minor_locator(MultipleLocator(0.1))
        axf.yaxis.set_major_formatter(FormatStrFormatter('%.1f'))
    axr.yaxis.set_major_locator(MultipleLocator(0.2))
    axr.yaxis.set_minor_locator(MultipleLocator(0.05))
    axr.yaxis.set_major_formatter(FormatStrFormatter('%.1f'))

    axf.set_ylabel('flux', fontsize=10)
    axr.set_ylabel('residuals', fontsize=10)
    axf.yaxis.set_label_coords(-0.043, 0.5)
    axr.yaxis.set_label_coords(-0.043, 0.5)

    axf.text(0.018, 0.83, names[i], transform=axf.transAxes,
             fontsize=10, va='center', ha='left')
    axf.text(0.982, 0.12, 'S/N = %d' % sn_values[i], transform=axf.transAxes,
             fontsize=7.5, va='center', ha='right')

    if i == 5:
        axr.tick_params(labelbottom=True)
        axr.set_xlabel('rest-frame wavelength [Å]', fontsize=10, labelpad=6)

plt.savefig('out.png', dpi=100)
